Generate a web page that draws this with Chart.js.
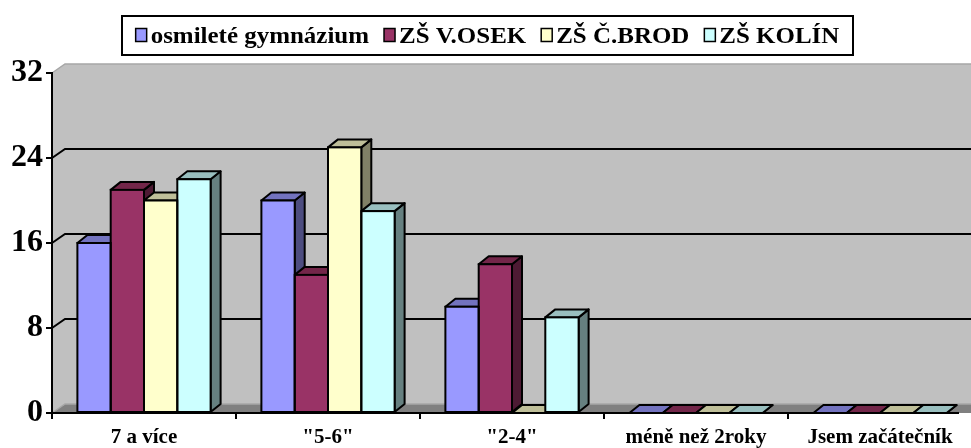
<!DOCTYPE html>
<html>
<head>
<meta charset="utf-8">
<script src="https://cdn.jsdelivr.net/npm/chart.js@4.4.1/dist/chart.umd.min.js"></script>
<style>
  html, body { margin: 0; padding: 0; background: #fff; overflow: hidden; }
  #wrap { width: 985px; height: 448px; }
</style>
</head>
<body>
<div id="wrap"><canvas id="chart"></canvas></div>
<script>
const categories = ['7 a více', '"5-6"', '"2-4"', 'méně než 2roky', 'Jsem začátečník'];
const seriesNames = ['osmileté gymnázium', 'ZŠ V.OSEK', 'ZŠ Č.BROD', 'ZŠ KOLÍN'];
const gymnazium = [16, 20, 10, 0, 0];
const vOsek = [21, 13, 14, 0, 0];
const cBrod = [20, 25, 0, 0, 0];
const kolin = [22, 19, 9, 0, 0];
const yTicks = [0, 8, 16, 24, 32];

const frontColors = ['#9999FF', '#993366', '#FFFFCC', '#CCFFFF'];
const topColors = ['#7373BF', '#732649', '#BFBF99', '#99BFBF'];
const sideColors = ['#4D4D80', '#4D1A33', '#808066', '#668080'];

const WALL_DX = 13, WALL_DY = 9;   // depth of the back wall
const BAR_DX = 10, BAR_DY = 8;     // depth of each column
const SERIF = '"Liberation Serif", "Times New Roman", serif';

function poly(ctx, pts) {
    ctx.beginPath();
    ctx.moveTo(pts[0][0], pts[0][1]);
    for (let i = 1; i < pts.length; i++) ctx.lineTo(pts[i][0], pts[i][1]);
    ctx.closePath();
}

const threeD = {
    id: 'threeD',
    beforeDraw(chart) {
        const {ctx, chartArea: a, scales: {y}} = chart;
        ctx.save();
        ctx.fillStyle = '#C0C0C0';
        ctx.fillRect(a.left + WALL_DX, a.top - WALL_DY, a.right - a.left, a.bottom - a.top);
        poly(ctx, [[a.left, a.top], [a.left + WALL_DX, a.top - WALL_DY],
                   [a.left + WALL_DX, a.bottom - WALL_DY], [a.left, a.bottom]]);
        ctx.fill();
        // floor
        ctx.fillStyle = '#808080';
        poly(ctx, [[a.left, a.bottom], [a.left + WALL_DX, a.bottom - WALL_DY],
                   [a.right + WALL_DX, a.bottom - WALL_DY], [a.right, a.bottom]]);
        ctx.fill();
        // light edges
        ctx.strokeStyle = '#A6A6A6';
        ctx.lineWidth = 1.5;
        ctx.beginPath();
        ctx.moveTo(a.left, a.top);
        ctx.lineTo(a.left + WALL_DX, a.top - WALL_DY);
        ctx.lineTo(a.right + WALL_DX, a.top - WALL_DY);
        ctx.moveTo(a.left, a.bottom);
        ctx.lineTo(a.left + WALL_DX, a.bottom - WALL_DY);
        ctx.lineTo(a.right + WALL_DX, a.bottom - WALL_DY);
        ctx.stroke();
        // gridlines on the walls
        ctx.strokeStyle = '#000';
        ctx.lineWidth = 2;
        yTicks.slice(1, -1).forEach(v => {
            const py = y.getPixelForValue(v);
            ctx.beginPath();
            ctx.moveTo(a.left, py);
            ctx.lineTo(a.left + WALL_DX, py - WALL_DY);
            ctx.lineTo(a.right + WALL_DX, py - WALL_DY);
            ctx.stroke();
        });
        ctx.restore();
    },
    beforeDatasetsDraw(chart) {
        const ctx = chart.ctx;
        ctx.save();
        ctx.strokeStyle = '#000';
        ctx.lineWidth = 2;
        ctx.lineJoin = 'round';
        chart.data.datasets.forEach((ds, d) => {
            chart.getDatasetMeta(d).data.forEach(bar => {
                const {x, y, base, width} = bar.getProps(['x', 'y', 'base', 'width'], true);
                const x1 = x - width / 2, x2 = x + width / 2;
                ctx.fillStyle = sideColors[d];
                poly(ctx, [[x2, y], [x2 + BAR_DX, y - BAR_DY], [x2 + BAR_DX, base - BAR_DY], [x2, base]]);
                ctx.fill();
                ctx.stroke();
                ctx.fillStyle = topColors[d];
                poly(ctx, [[x1, y], [x2, y], [x2 + BAR_DX, y - BAR_DY], [x1 + BAR_DX, y - BAR_DY]]);
                ctx.fill();
                ctx.stroke();
            });
        });
        ctx.restore();
    },
    afterDatasetsDraw(chart) {
        const {ctx, chartArea: a} = chart;
        ctx.save();
        ctx.strokeStyle = '#000';
        ctx.lineWidth = 2;
        chart.data.datasets.forEach((ds, d) => {
            chart.getDatasetMeta(d).data.forEach(bar => {
                const {x, y, base, width} = bar.getProps(['x', 'y', 'base', 'width'], true);
                ctx.strokeRect(x - width / 2, y, width, base - y);
            });
        });
        ctx.beginPath();
        ctx.moveTo(a.left - 6, a.bottom);
        ctx.lineTo(a.right - WALL_DX, a.bottom);
        ctx.stroke();
        ctx.restore();
    },
    afterDraw(chart) {
        // legend in a framed box
        const ctx = chart.ctx;
        const box = {left: 122, top: 16, right: 853, bottom: 55};
        const stretch = 1.04, mark = 11, gapText = 4, gapItem = 15;
        ctx.save();
        ctx.font = 'bold 24px ' + SERIF;
        const widths = seriesNames.map(n => ctx.measureText(n).width * stretch);
        const total = widths.reduce((s, w) => s + w + mark + gapText, 0) + gapItem * (seriesNames.length - 1);
        ctx.fillStyle = '#fff';
        ctx.fillRect(box.left, box.top, box.right - box.left, box.bottom - box.top);
        ctx.strokeStyle = '#000';
        ctx.lineWidth = 2;
        ctx.strokeRect(box.left, box.top, box.right - box.left, box.bottom - box.top);
        let x = (box.left + box.right) / 2 - total / 2;
        const midY = (box.top + box.bottom) / 2;
        ctx.textBaseline = 'alphabetic';
        seriesNames.forEach((name, i) => {
            ctx.fillStyle = frontColors[i];
            ctx.fillRect(x, midY - 7, mark, 13);
            ctx.lineWidth = 1.5;
            ctx.strokeRect(x, midY - 7, mark, 13);
            ctx.save();
            ctx.translate(x + mark + gapText, midY + 7.5);
            ctx.scale(stretch, 1);
            ctx.fillStyle = '#000';
            ctx.fillText(name, 0, 0);
            ctx.restore();
            x += mark + gapText + widths[i] + gapItem;
        });
        ctx.restore();
    }
};

new Chart(document.getElementById('chart'), {
    type: 'bar',
    data: {
        labels: categories,
        datasets: [gymnazium, vOsek, cBrod, kolin].map((values, i) => ({
            label: seriesNames[i],
            data: values,
            backgroundColor: frontColors[i],
            borderWidth: 0,
            categoryPercentage: 0.724,
            barPercentage: 1
        }))
    },
    options: {
        responsive: true,
        maintainAspectRatio: false,
        animation: false,
        events: [],
        layout: { padding: { top: 73, right: 13, left: 0, bottom: 0 } },
        plugins: { legend: { display: false }, tooltip: { enabled: false } },
        scales: {
            x: {
                border: { display: false },
                grid: { display: true, drawOnChartArea: false, drawTicks: true, tickLength: 6, color: '#000', lineWidth: 2 },
                ticks: {
                    color: '#000', padding: 6, maxRotation: 0, autoSkip: false,
                    font: { family: SERIF, size: 21, weight: 'bold' }
                },
                afterFit(scale) { scale.height = 35; }
            },
            y: {
                min: 0,
                max: 32,
                afterBuildTicks(scale) { scale.ticks = yTicks.map(v => ({ value: v })); },
                border: { display: true, color: '#000', width: 2 },
                grid: { display: true, drawOnChartArea: false, drawTicks: true, tickLength: 6, color: '#000', lineWidth: 2 },
                ticks: {
                    color: '#000', padding: 3,
                    font: { family: SERIF, size: 32, weight: 'bold' }
                },
                afterFit(scale) { scale.width = 52; }
            }
        }
    },
    plugins: [threeD]
});
</script>
</body>
</html>
